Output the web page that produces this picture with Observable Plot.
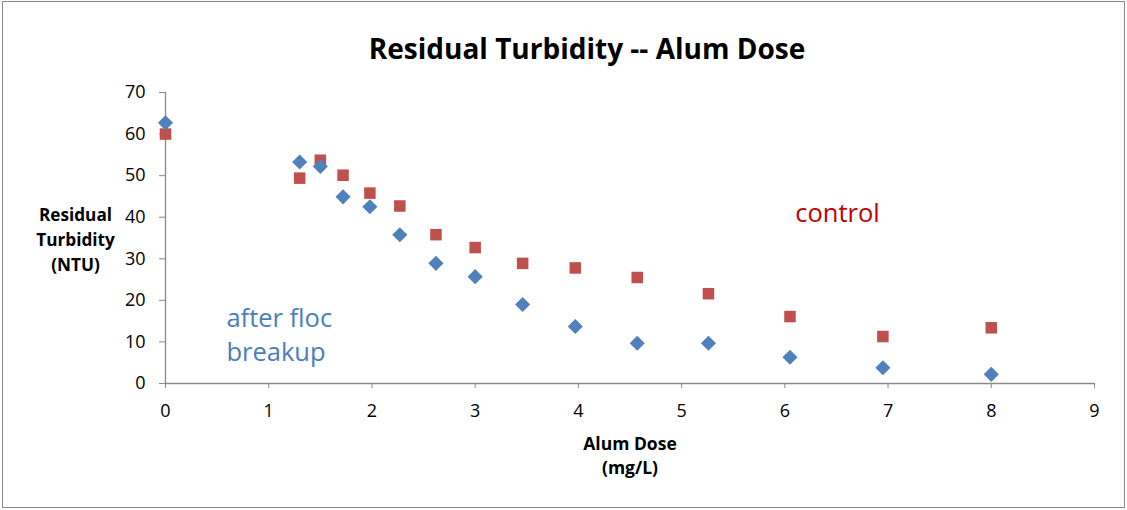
<!DOCTYPE html>
<html>
<head>
<meta charset="utf-8">
<script src="https://cdn.jsdelivr.net/npm/d3@7"></script>
<script src="https://cdn.jsdelivr.net/npm/@observablehq/plot@0.6"></script>
<style>
  html, body { margin: 0; padding: 0; background: #fff; }
  #wrap { position: relative; width: 1127px; height: 510px; }
  #border { position: absolute; left: 2px; top: 1px; width: 1121px; height: 505px; border: 1px solid #888; pointer-events: none; }
</style>
</head>
<body>
<div id="wrap"><div id="border"></div></div>
<script>
// Alum dose (mg/L)
const dose = [0, 1.30, 1.50, 1.72, 1.98, 2.27, 2.62, 3.00, 3.46, 3.97, 4.57, 5.26, 6.05, 6.95, 8.00];
// Residual turbidity (NTU) after floc breakup (blue diamonds)
const afterBreakup = [62.7, 53.3, 52.2, 44.9, 42.5, 35.8, 28.9, 25.7, 19.0, 13.7, 9.7, 9.7, 6.3, 3.8, 2.2];
// Residual turbidity (NTU) control (red squares)
const control = [60.0, 49.4, 53.7, 50.1, 45.8, 42.7, 35.8, 32.7, 28.9, 27.8, 25.5, 21.6, 16.1, 11.3, 13.4];

const xTicks = [0, 1, 2, 3, 4, 5, 6, 7, 8, 9];
const yTicks = [0, 10, 20, 30, 40, 50, 60, 70];

const title = "Residual Turbidity -- Alum Dose";
const xLabel = "Alum Dose\n(mg/L)";
const yLabel = "Residual\nTurbidity\n(NTU)";
const labelAfter = "after floc\nbreakup";
const labelControl = "control";

const blueData = dose.map((d, i) => ({x: d, y: afterBreakup[i]}));
const redData = dose.map((d, i) => ({x: d, y: control[i]}));

const font = "'Open Sans', Lato, sans-serif";
const axisGray = "#8a8a8a";

const chart = Plot.plot({
  width: 1127,
  height: 510,
  marginLeft: 165,
  marginRight: 33,
  marginTop: 92,
  marginBottom: 127,
  style: {fontFamily: font, background: "transparent", color: "#000"},
  x: {domain: [0, 9]},
  y: {domain: [0, 70]},
  marks: [
    Plot.ruleY([0], {stroke: axisGray, strokeWidth: 1.3}),
    Plot.ruleX([0], {stroke: axisGray, strokeWidth: 1.3}),
    Plot.axisX(xTicks, {tickSize: 5, tickPadding: 16, stroke: axisGray, fill: "#000", fontSize: 18, tickFormat: d => String(d), label: null}),
    Plot.axisY(yTicks, {tickSize: 6, tickPadding: 14, stroke: axisGray, fill: "#000", fontSize: 18, tickFormat: d => String(d), label: null}),
    Plot.dot(redData, {x: "x", y: "y", symbol: "square", r: 6.5, fill: "#C0504D", stroke: "none"}),
    Plot.dot(blueData, {x: "x", y: "y", symbol: "diamond2", r: 6.8, fill: "#4F81BD", stroke: "none"}),
    Plot.text([title], {frameAnchor: "top", dx: -43, dy: -42, text: d => d, fontSize: 28, fontWeight: "bold", fill: "#000", lineAnchor: "middle"}),
    Plot.text([yLabel], {frameAnchor: "left", dx: -90, dy: 0, text: d => d, fontSize: 17.2, fontWeight: "bold", fill: "#000", textAnchor: "middle", lineAnchor: "middle", lineHeight: 1.46}),
    Plot.text([xLabel], {frameAnchor: "bottom", dx: 0, dy: 71, text: d => d, fontSize: 17.5, fontWeight: "bold", fill: "#000", textAnchor: "middle", lineAnchor: "middle", lineHeight: 1.38}),
    Plot.text([{x: 0.59, y: 12.2, t: labelAfter}], {x: "x", y: "y", text: "t", fontSize: 25.5, fill: "#4A7EBB", textAnchor: "start", lineAnchor: "middle", lineHeight: 1.34}),
    Plot.text([{x: 6.51, y: 40.8, t: labelControl}], {x: "x", y: "y", text: "t", fontSize: 25.5, fill: "#C00000", textAnchor: "middle", lineAnchor: "middle"})
  ]
});
document.getElementById("wrap").prepend(chart);
</script>
</body>
</html>
